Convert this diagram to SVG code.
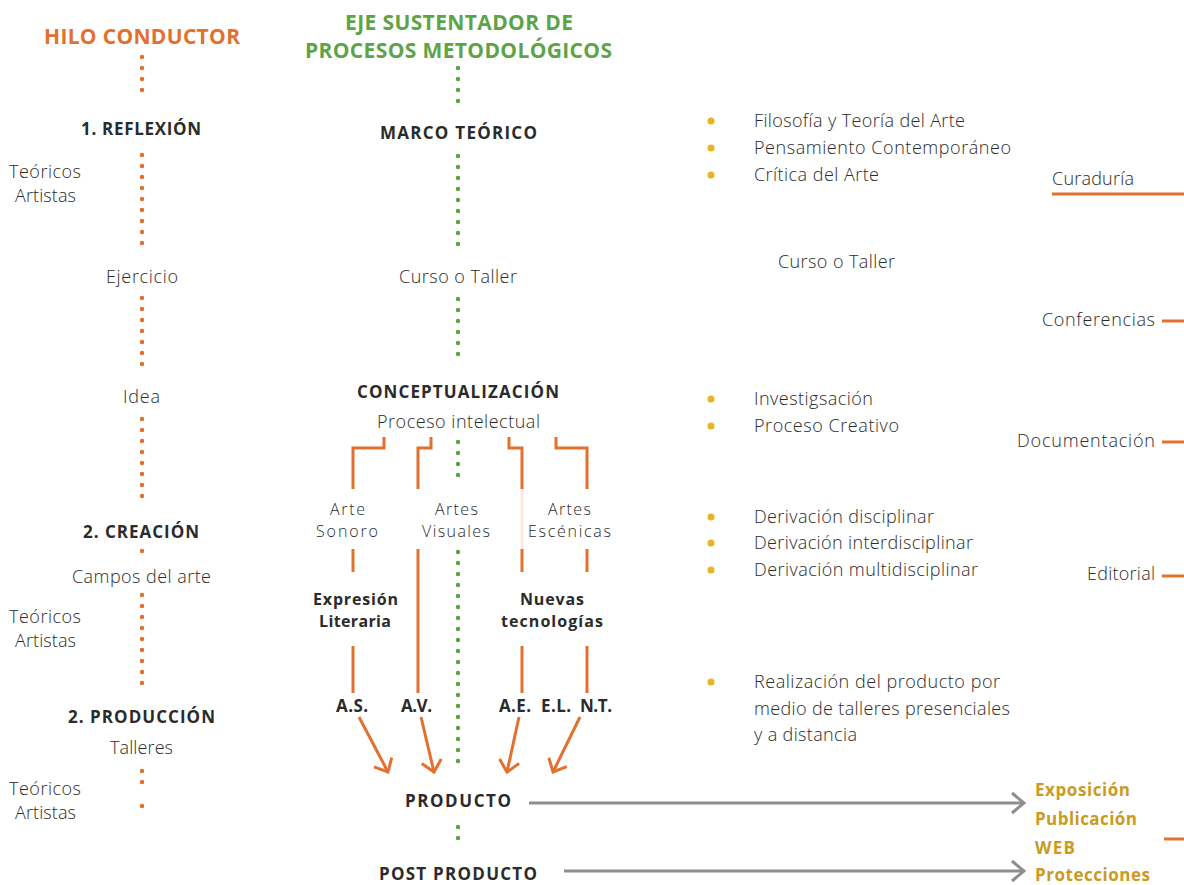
<svg xmlns="http://www.w3.org/2000/svg" width="1184" height="885" viewBox="0 0 1184 885">
<defs>
<style>
text{font-family:"Open Sans","Liberation Sans",sans-serif;fill:#2b2b2b;}
.b{font-weight:700;font-size:17px;}
.bs{font-weight:700;font-size:16px;}
.r{font-weight:300;font-size:18px;}
.s{font-weight:300;font-size:16px;}
.m{text-anchor:middle;}
.t1{font-weight:700;font-size:21px;fill:#E2702E;}
.t2{font-weight:700;font-size:21px;fill:#5EA447;}
.g{font-weight:700;font-size:17px;fill:#C99B22;}
.od{stroke:#E2702E;stroke-width:4.5;stroke-linecap:round;stroke-dasharray:0 11;fill:none;}
.gd{stroke:#5EA447;stroke-width:4.5;stroke-linecap:round;stroke-dasharray:0 11;fill:none;}
.ol{stroke:#E2702E;stroke-width:3;fill:none;}
.gl{stroke:#8E8E8E;stroke-width:3;fill:none;}
.bul{fill:#EAB320;}
</style>
<marker id="oa" viewBox="-16 -12 20 24" refX="0" refY="0" markerWidth="20" markerHeight="24" markerUnits="userSpaceOnUse" orient="auto">
<path d="M-11,-10 L0,0 L-11,10" fill="none" stroke="#E2702E" stroke-width="3"/>
</marker>
<marker id="ga" viewBox="-16 -12 20 24" refX="0" refY="0" markerWidth="20" markerHeight="24" markerUnits="userSpaceOnUse" orient="auto">
<path d="M-12,-10 L0,0 L-12,10" fill="none" stroke="#8E8E8E" stroke-width="3"/>
</marker>
</defs>
<rect width="1184" height="885" fill="#ffffff"/>

<g id="connectors">
<line class="od" x1="142" y1="57" x2="142" y2="101"/>
<line class="od" x1="142" y1="155" x2="142" y2="254"/>
<line class="od" x1="142" y1="298" x2="142" y2="375"/>
<line class="od" x1="142" y1="419" x2="142" y2="507"/>
<line class="od" x1="142" y1="551" x2="142" y2="551.1"/>
<line class="od" x1="142" y1="595" x2="142" y2="694"/>
<line class="od" x1="142" y1="771" x2="142" y2="793"/>
<line class="od" x1="142" y1="806" x2="142" y2="806.1"/>
<line class="gd" x1="458" y1="68" x2="458" y2="112"/>
<line class="gd" x1="458" y1="156" x2="458" y2="255"/>
<line class="gd" x1="458" y1="299" x2="458" y2="365"/>
<line class="gd" x1="458" y1="442" x2="458" y2="486"/>
<line class="gd" x1="458" y1="552" x2="458" y2="772"/>
<line class="gd" x1="458" y1="827" x2="458" y2="849"/>
<polyline class="ol" points="384,437 384,448 353,448 353,489"/>
<polyline class="ol" points="431,437 431,448 418,448 418,489"/>
<polyline class="ol" points="509,437 509,448 522,448 522,489"/>
<polyline class="ol" points="556,437 556,448 587,448 587,489"/>
<line class="ol" x1="522" y1="489" x2="522" y2="549" opacity="0.15"/>
<line class="ol" x1="353" y1="549" x2="353" y2="572"/>
<line class="ol" x1="418" y1="549" x2="418" y2="693"/>
<line class="ol" x1="522" y1="549" x2="522" y2="572"/>
<line class="ol" x1="587" y1="549" x2="587" y2="572"/>
<line class="ol" x1="353" y1="646" x2="353" y2="693"/>
<line class="ol" x1="522" y1="646" x2="522" y2="693"/>
<line class="ol" x1="587" y1="646" x2="587" y2="693"/>
<line class="ol" x1="359" y1="717" x2="388" y2="772" marker-end="url(#oa)"/>
<line class="ol" x1="421" y1="717" x2="434" y2="772" marker-end="url(#oa)"/>
<line class="ol" x1="519" y1="717" x2="507" y2="772" marker-end="url(#oa)"/>
<line class="ol" x1="580" y1="717" x2="553" y2="772" marker-end="url(#oa)"/>
<line class="gl" x1="529" y1="803" x2="1024" y2="803" marker-end="url(#ga)"/>
<line class="gl" x1="564" y1="871" x2="1024" y2="871" marker-end="url(#ga)"/>
<line class="ol" x1="1052" y1="194" x2="1184" y2="194"/>
<line class="ol" x1="1162" y1="321" x2="1184" y2="321"/>
<line class="ol" x1="1162" y1="442" x2="1184" y2="442"/>
<line class="ol" x1="1162" y1="576" x2="1184" y2="576"/>
<line class="ol" x1="1164" y1="839" x2="1184" y2="839"/>
</g>

<g id="titulo-hilo"><text class="t1 m" x="142" y="44" textLength="196">HILO CONDUCTOR</text></g>
<g id="titulo-eje">
<text class="t2 m" x="459" y="30" textLength="228">EJE SUSTENTADOR DE</text>
<text class="t2 m" x="458.5" y="58" textLength="307">PROCESOS METODOLÓGICOS</text>
</g>

<g id="reflexion"><text class="b m" x="141" y="135" textLength="120">1. REFLEXIÓN</text></g>
<g id="teoricos1">
<text class="r m" x="45" y="178" textLength="72">Teóricos</text>
<text class="r m" x="45.5" y="202" textLength="61">Artistas</text>
</g>
<g id="ejercicio"><text class="r m" x="142" y="283" textLength="72">Ejercicio</text></g>
<g id="idea"><text class="r m" x="141.5" y="403" textLength="37">Idea</text></g>
<g id="creacion"><text class="b m" x="141" y="538" textLength="116">2. CREACIÓN</text></g>
<g id="campos"><text class="r m" x="141.5" y="583" textLength="139">Campos del arte</text></g>
<g id="teoricos2">
<text class="r m" x="45" y="623" textLength="72">Teóricos</text>
<text class="r m" x="45.5" y="647" textLength="61">Artistas</text>
</g>
<g id="produccion"><text class="b m" x="141.5" y="723" textLength="147">2. PRODUCCIÓN</text></g>
<g id="talleres"><text class="r m" x="141.5" y="754" textLength="63">Talleres</text></g>
<g id="teoricos3">
<text class="r m" x="45" y="795" textLength="72">Teóricos</text>
<text class="r m" x="45.5" y="819" textLength="61">Artistas</text>
</g>

<g id="marco"><text class="b m" x="458.5" y="139" textLength="157">MARCO TEÓRICO</text></g>
<g id="curso"><text class="r m" x="458" y="283" textLength="118">Curso o Taller</text></g>
<g id="conceptualizacion">
<text class="b m" x="458" y="398" textLength="202">CONCEPTUALIZACIÓN</text>
<text class="r m" x="458.5" y="428" textLength="163">Proceso intelectual</text>
</g>
<g id="arte-sonoro">
<text class="s m" x="347.5" y="515" textLength="35">Arte</text>
<text class="s m" x="347" y="537" textLength="62">Sonoro</text>
</g>
<g id="artes-visuales">
<text class="s m" x="456.5" y="515" textLength="43">Artes</text>
<text class="s m" x="456" y="537" textLength="68">Visuales</text>
</g>
<g id="artes-escenicas">
<text class="s m" x="569.5" y="515" textLength="43">Artes</text>
<text class="s m" x="569.5" y="537" textLength="83">Escénicas</text>
</g>
<g id="expresion">
<text class="bs m" x="355.5" y="605" textLength="85">Expresión</text>
<text class="bs m" x="355" y="627" textLength="72">Literaria</text>
</g>
<g id="nuevas">
<text class="bs m" x="552" y="605" textLength="64">Nuevas</text>
<text class="bs m" x="552" y="627" textLength="102">tecnologías</text>
</g>
<g id="siglas">
<text class="b m" x="352" y="712" textLength="32">A.S.</text>
<text class="b m" x="416.5" y="712" textLength="31">A.V.</text>
<text class="b m" x="515" y="712" textLength="32">A.E.</text>
<text class="b m" x="556" y="712" textLength="30">E.L.</text>
<text class="b m" x="596" y="712" textLength="32">N.T.</text>
</g>
<g id="producto"><text class="b m" x="458" y="807" textLength="106">PRODUCTO</text></g>
<g id="post-producto"><text class="b m" x="458" y="880" textLength="158">POST PRODUCTO</text></g>

<g id="lista-marco">
<circle class="bul" cx="711" cy="121" r="3.5"/>
<circle class="bul" cx="711" cy="148" r="3.5"/>
<circle class="bul" cx="711" cy="175" r="3.5"/>
<text class="r" x="754" y="127" textLength="211">Filosofía y Teoría del Arte</text>
<text class="r" x="754" y="154" textLength="257">Pensamiento Contemporáneo</text>
<text class="r" x="754" y="181" textLength="125">Crítica del Arte</text>
</g>
<g id="curso-derecha"><text class="r" x="778" y="268" textLength="117">Curso o Taller</text></g>
<g id="lista-concepto">
<circle class="bul" cx="711" cy="399" r="3.5"/>
<circle class="bul" cx="711" cy="426" r="3.5"/>
<text class="r" x="754" y="405" textLength="119">Investigsación</text>
<text class="r" x="754" y="432" textLength="145">Proceso Creativo</text>
</g>
<g id="lista-derivacion">
<circle class="bul" cx="711" cy="517" r="3.5"/>
<circle class="bul" cx="711" cy="543" r="3.5"/>
<circle class="bul" cx="711" cy="570" r="3.5"/>
<text class="r" x="754" y="523" textLength="180">Derivación disciplinar</text>
<text class="r" x="754" y="549" textLength="219">Derivación interdisciplinar</text>
<text class="r" x="754" y="576" textLength="224">Derivación multidisciplinar</text>
</g>
<g id="lista-realizacion">
<circle class="bul" cx="711" cy="682" r="3.5"/>
<text class="r" x="754" y="688" textLength="246">Realización del producto por</text>
<text class="r" x="754" y="715" textLength="256">medio de talleres presenciales</text>
<text class="r" x="754" y="741" textLength="103">y a distancia</text>
</g>

<g id="curaduria"><text class="r" x="1052" y="185" textLength="82">Curaduría</text></g>
<g id="conferencias"><text class="r" x="1155" y="326" text-anchor="end" textLength="113">Conferencias</text></g>
<g id="documentacion"><text class="r" x="1155" y="447" text-anchor="end" textLength="138">Documentación</text></g>
<g id="editorial"><text class="r" x="1155" y="580" text-anchor="end" textLength="68">Editorial</text></g>

<g id="salidas">
<text class="g" x="1035" y="796" textLength="95">Exposición</text>
<text class="g" x="1035" y="825" textLength="102">Publicación</text>
<text class="g" x="1035" y="854" textLength="40">WEB</text>
<text class="g" x="1035" y="881" textLength="115">Protecciones</text>
</g>
</svg>
